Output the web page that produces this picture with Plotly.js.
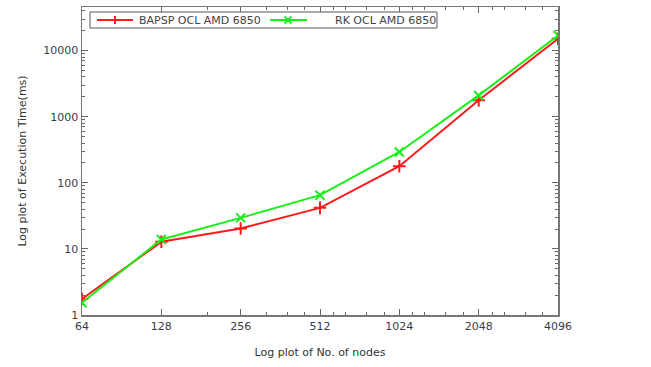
<!DOCTYPE html>
<html>
<head>
<meta charset="utf-8">
<script src="https://cdn.plot.ly/plotly-3.0.1.min.js"></script>
<style>html,body{margin:0;padding:0;background:#fff;}#chart{width:651px;height:367px;}</style>
</head>
<body>
<div id="chart"></div>
<script>
const nodes = [64, 128, 256, 512, 1024, 2048, 4096];
const xTickLabels = ['64', '128', '256', '512', '1024', '2048', '4096'];
const bapsp = [1.75, 12.8, 20.4, 41.8, 178, 1770, 15100];
const rk = [1.53, 13.9, 29.5, 65, 293, 2100, 16900];
const seriesNames = ['BAPSP OCL AMD 6850', 'RK OCL AMD 6850'];
const yTickVals = [1, 10, 100, 1000, 10000];
const yTickLabels = ['1', '10', '100', '1000', '10000'];
const xMinor = [192, 320, 384, 448, 576, 640, 768, 896, 1152, 1280, 1536, 1792, 2304, 2560, 3072, 3584];
const yMinor = [];
for (let d = 1; d <= 10000; d *= 10) { for (let k = 2; k <= 9; k++) { yMinor.push(d * k); } }

const RED = '#ff1a1a', GREEN = '#19ef19';
const traces = [
  {x: nodes, y: bapsp, name: seriesNames[0], mode: 'lines+markers', type: 'scatter',
   line: {color: RED, width: 2}, marker: {symbol: 'cross-thin', size: 9, color: RED, line: {color: RED, width: 2}}},
  {x: nodes, y: rk, name: seriesNames[1], mode: 'lines+markers', type: 'scatter',
   line: {color: GREEN, width: 2}, marker: {symbol: 'x-thin', size: 9, color: GREEN, line: {color: GREEN, width: 2}}}
];

// legend drawn as a key box (pixel offsets from plot's top-left corner)
function pshape(x0, x1, y0, y1, extra) {
  return Object.assign({xref: 'paper', yref: 'paper', xsizemode: 'pixel', ysizemode: 'pixel',
    xanchor: 0, yanchor: 1, x0: x0, x1: x1, y0: y0, y1: y1}, extra);
}
const shapes = [
  pshape(8, 355, -5, -21, {type: 'rect', line: {color: '#555', width: 1}, fillcolor: '#fff', layer: 'above'}),
  pshape(15, 51, -13, -13, {type: 'line', line: {color: RED, width: 2}, layer: 'above'}),
  pshape(33, 33, -9, -17, {type: 'line', line: {color: RED, width: 2}, layer: 'above'}),
  pshape(188, 225, -13, -13, {type: 'line', line: {color: GREEN, width: 2}, layer: 'above'}),
  pshape(202.5, 209.5, -9.5, -16.5, {type: 'line', line: {color: GREEN, width: 2}, layer: 'above'}),
  pshape(202.5, 209.5, -16.5, -9.5, {type: 'line', line: {color: GREEN, width: 2}, layer: 'above'})
];
const annotations = [
  {xref: 'paper', yref: 'paper', x: 55 / 476, y: 1 - 13 / 308, xanchor: 'left', yanchor: 'middle',
   text: seriesNames[0], showarrow: false, font: {size: 11, color: '#444'}},
  {xref: 'paper', yref: 'paper', x: 356 / 476, y: 1 - 13 / 308, xanchor: 'right', yanchor: 'middle',
   text: seriesNames[1], showarrow: false, font: {size: 11, color: '#444'}}
];

const layout = {
  width: 651, height: 367,
  margin: {l: 82, r: 93, t: 7, b: 52},
  paper_bgcolor: '#fff', plot_bgcolor: '#fff',
  font: {family: 'DejaVu Sans, Verdana, sans-serif', size: 11, color: '#333'},
  showlegend: false,
  shapes: shapes, annotations: annotations,
  xaxis: {type: 'log', range: [Math.log10(64), Math.log10(4096)], tickmode: 'array',
    tickvals: nodes, ticktext: xTickLabels, ticks: 'inside', ticklen: 6, tickcolor: '#666',
    showline: true, linecolor: '#777', linewidth: 1.5, mirror: 'allticks', showgrid: false, zeroline: false,
    tickfont: {size: 11, color: '#3a3a4a'},
    minor: {tickmode: 'array', tickvals: xMinor, ticks: 'inside', ticklen: 3, tickcolor: '#666', showgrid: false},
    title: {text: 'Log plot of No. of nodes', standoff: 16, font: {size: 11, color: '#333'}}},
  yaxis: {type: 'log', range: [0, 4.66], tickmode: 'array', tickvals: yTickVals, ticktext: yTickLabels,
    ticks: 'inside', ticklen: 6, tickcolor: '#666', showline: true, linecolor: '#777', linewidth: 1.5,
    mirror: 'allticks', showgrid: false, zeroline: false, tickfont: {size: 11, color: '#3a3a4a'},
    minor: {tickmode: 'array', tickvals: yMinor, ticks: 'inside', ticklen: 3, tickcolor: '#666', showgrid: false},
    title: {text: 'Log plot of Execution Time(ms)', standoff: 14, font: {size: 11, color: '#333'}}}
};

Plotly.newPlot('chart', traces, layout, {displayModeBar: false, staticPlot: true});
</script>
</body>
</html>
